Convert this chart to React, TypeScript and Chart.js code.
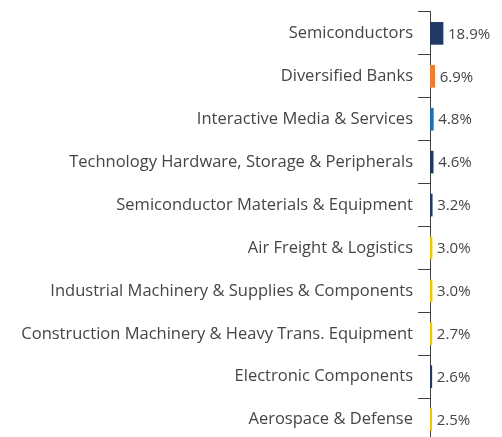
import React, { useEffect, useRef } from "react";
import { Chart, registerables } from "chart.js";

Chart.register(...registerables);

const categories = [
  "Semiconductors",
  "Diversified Banks",
  "Interactive Media & Services",
  "Technology Hardware, Storage & Peripherals",
  "Semiconductor Materials & Equipment",
  "Air Freight & Logistics",
  "Industrial Machinery & Supplies & Components",
  "Construction Machinery & Heavy Trans. Equipment",
  "Electronic Components",
  "Aerospace & Defense",
];

const values = [18.9, 6.9, 4.8, 4.6, 3.2, 3.0, 3.0, 2.7, 2.6, 2.5];

const barColors = [
  "#1f3864",
  "#ed7d31",
  "#1f6fb0",
  "#1f3864",
  "#1f3864",
  "#f2c500",
  "#f2c500",
  "#f2c500",
  "#1f3864",
  "#f2c500",
];

const FONT = "'Open Sans', sans-serif";
const TEXT_COLOR = "#454545";
const CANVAS_H = 459;

const valueLabels = {
  id: "valueLabels",
  afterDatasetsDraw(chart: any) {
    const ctx = chart.ctx;
    const meta = chart.getDatasetMeta(0);
    ctx.save();
    ctx.font = `15px ${FONT}`;
    ctx.fillStyle = TEXT_COLOR;
    ctx.textAlign = "left";
    ctx.textBaseline = "middle";
    meta.data.forEach((bar: any, i: number) => {
      const v = values[i];
      ctx.fillText(v.toFixed(1) + "%", bar.x + 5, bar.y + 1);
    });
    ctx.restore();
  },
};

export default function App() {
  const ref = useRef<HTMLCanvasElement>(null);
  useEffect(() => {
    if (!ref.current) return;
    const chart = new Chart(ref.current, {
      type: "bar",
      data: {
        labels: categories,
        datasets: [
          {
            data: values,
            backgroundColor: barColors,
            barThickness: 22,
          },
        ],
      },
      options: {
        indexAxis: "y",
        animation: false,
        responsive: false,
        maintainAspectRatio: false,
        layout: { padding: { top: 7, right: 3, bottom: 0, left: 0 } },
        plugins: {
          legend: { display: false },
          tooltip: { enabled: false },
        },
        scales: {
          x: { display: false, min: 0, max: 100 },
          y: {
            afterFit(scale: any) {
              scale.width = 430;
            },
            border: { display: true, color: "#404040", width: 1 },
            grid: {
              offset: true,
              drawOnChartArea: false,
              drawTicks: true,
              tickLength: 12,
              color: "#404040",
            },
            ticks: {
              color: TEXT_COLOR,
              font: { family: FONT, size: 16.5 },
              padding: 5,
            },
          },
        },
      },
      plugins: [valueLabels],
    });
    return () => chart.destroy();
  }, []);
  return (
    <div style={{ position: "absolute", left: 0, top: 0, width: 502, height: 437, overflow: "hidden", background: "#fff" }}>
      <canvas
        ref={ref}
        width={502}
        height={CANVAS_H}
        style={{ position: "absolute", left: 0, top: -3, width: 502, height: CANVAS_H, display: "block" }}
      />
    </div>
  );
}
